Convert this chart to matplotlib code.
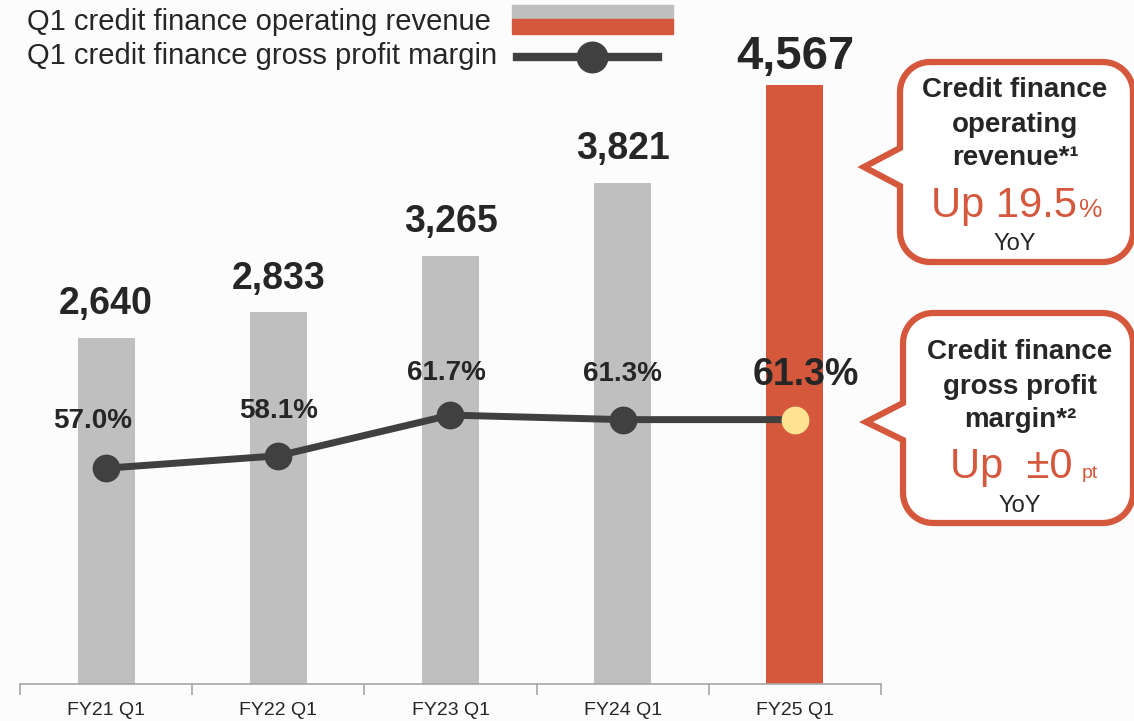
import matplotlib.pyplot as plt
from matplotlib.path import Path
from matplotlib.patches import PathPatch, Rectangle
from matplotlib.lines import Line2D
import numpy as np

plt.rcParams['font.family'] = ['Liberation Sans', 'DejaVu Sans']

# data
categories = ["FY21 Q1", "FY22 Q1", "FY23 Q1", "FY24 Q1", "FY25 Q1"]
revenue = [2640, 2833, 3265, 3821, 4567]
margin = [57.0, 58.1, 61.7, 61.3, 61.3]
revenue_labels = ["2,640", "2,833", "3,265", "3,821", "4,567"]
margin_labels = ["57.0%", "58.1%", "61.7%", "61.3%", "61.3%"]

GRAY = "#bfbfbf"
ORANGE = "#d5583c"
DARK = "#404040"
TEXT = "#262626"
YELLOW = "#ffe391"
BG = "#fcfcfc"

W, H = 1134, 721
fig = plt.figure(figsize=(W / 100, H / 100), dpi=100, facecolor=BG)

# axes: x from px 20 to 881, y from px 684 (bottom) to 40 (top)
ax = fig.add_axes([20 / W, (H - 684) / H, (881 - 20) / W, (684 - 40) / H])
ax.set_facecolor(BG)
x = np.arange(len(categories))
colors = [GRAY] * 4 + [ORANGE]
ax.bar(x, revenue, width=0.33, color=colors, zorder=1)
ax.set_xlim(-0.5, 4.5)
ax.set_ylim(0, 4909)
for s in ["top", "right", "left"]:
    ax.spines[s].set_visible(False)
ax.spines["bottom"].set_color("#a6a6a6")
ax.spines["bottom"].set_linewidth(1.2)
ax.set_yticks([])
ax.set_xticks(x)
ax.set_xticklabels(categories, fontsize=14, color=TEXT)
ax.tick_params(axis="x", which="major", length=0, pad=13)
ax.set_xticks(np.arange(-0.5, 5, 1), minor=True)
ax.tick_params(axis="x", which="minor", length=8, color="#a6a6a6", width=1.2)

for i, (v, lab) in enumerate(zip(revenue, revenue_labels)):
    big = i == len(revenue) - 1
    ax.annotate(lab, (i, v), xytext=(0, 20 if big else 24), textcoords="offset points",
                ha="center", va="center", fontsize=34 if big else 27,
                fontweight="bold", color=TEXT)

ax2 = ax.twinx()
ax2.set_ylim(37.9, 94.9)
ax2.axis("off")
ax2.plot(x, margin, color=DARK, linewidth=5, zorder=2)
ax2.plot(x[:-1], margin[:-1], "o", color=DARK, markersize=19, zorder=3)
ax2.plot(x[-1:], margin[-1:], "o", color=YELLOW, markersize=19, zorder=3)

label_offsets = [(-10, 34), (0, 32), (-3, 30), (0, 33), (8, 32)]
for i, (v, lab) in enumerate(zip(margin, margin_labels)):
    big = i == len(margin) - 1
    ax2.annotate(lab, (i, v), xytext=label_offsets[i], textcoords="offset points",
                 ha="center", va="center", fontsize=27 if big else 20,
                 fontweight="bold", color=TEXT)

# legend drawn in figure pixel coordinates
def fx(px):
    return px / W

def fy(py):
    return 1 - py / H

fig.text(fx(27), fy(22), "Q1 credit finance operating revenue", fontsize=21,
         color=TEXT, ha="left", va="center")
fig.text(fx(27), fy(56), "Q1 credit finance gross profit margin", fontsize=21,
         color=TEXT, ha="left", va="center")
fig.patches.append(Rectangle((fx(512), fy(19)), fx(161), 14 / H, color=GRAY,
                             transform=fig.transFigure))
fig.patches.append(Rectangle((fx(512), fy(34)), fx(161), 15 / H, color=ORANGE,
                             transform=fig.transFigure))
fig.lines.append(Line2D([fx(517), fx(658)], [fy(57), fy(57)], color=DARK,
                        linewidth=6, transform=fig.transFigure))
fig.lines.append(Line2D([fx(592)], [fy(57)], marker="o", markersize=22, color=DARK,
                        transform=fig.transFigure))


def callout(left, right, top, bottom, tip, join_top, join_bot, r=30):
    # rounded box with a pointer on the left side, in pixel coordinates
    pts = []
    def arc(cx, cy, a0, a1):
        for a in np.linspace(a0, a1, 12):
            pts.append((cx + r * np.cos(a), cy + r * np.sin(a)))
    pts.append((left, join_top))
    arc(left + r, top + r, np.pi, 1.5 * np.pi)
    arc(right - r, top + r, 1.5 * np.pi, 2 * np.pi)
    arc(right - r, bottom - r, 0, 0.5 * np.pi)
    arc(left + r, bottom - r, 0.5 * np.pi, np.pi)
    pts.append((left, join_bot))
    pts.append(tip)
    pts.append((left, join_top))
    verts = [(fx(px), fy(py)) for px, py in pts]
    codes = [Path.MOVETO] + [Path.LINETO] * (len(verts) - 2) + [Path.CLOSEPOLY]
    patch = PathPatch(Path(verts, codes), facecolor="white", edgecolor=ORANGE,
                      linewidth=4.5, transform=fig.transFigure, zorder=5)
    fig.patches.append(patch)


callout(900, 1133, 62, 262, (864, 167), 148, 186)
callout(903, 1133, 313, 523, (866, 422), 403, 440)

cx1 = 1015
for py, s in [(90, "Credit finance"), (125, "operating"), (158, "revenue*¹")]:
    fig.text(fx(cx1), fy(py), s, fontsize=20, fontweight="bold", color=TEXT,
             ha="center", va="center", zorder=6)
fig.text(fx(1077), fy(217), "Up 19.5", fontsize=30, color=ORANGE, ha="right",
         va="baseline", zorder=6)
fig.text(fx(1079), fy(217), "%", fontsize=19, color=ORANGE, ha="left",
         va="baseline", zorder=6)
fig.text(fx(cx1), fy(244), "YoY", fontsize=17, color=TEXT, ha="center",
         va="center", zorder=6)

cx2 = 1020
for py, s in [(352, "Credit finance"), (387, "gross profit"), (420, "margin*²")]:
    fig.text(fx(cx2), fy(py), s, fontsize=20, fontweight="bold", color=TEXT,
             ha="center", va="center", zorder=6)
fig.text(fx(1073), fy(478), "Up  ±0", fontsize=30, color=ORANGE, ha="right",
         va="baseline", zorder=6)
fig.text(fx(1082), fy(478), "pt", fontsize=14, color=ORANGE, ha="left",
         va="baseline", zorder=6)
fig.text(fx(cx2), fy(506), "YoY", fontsize=17, color=TEXT, ha="center",
         va="center", zorder=6)

fig.savefig("out.png", dpi=100, facecolor=BG)
